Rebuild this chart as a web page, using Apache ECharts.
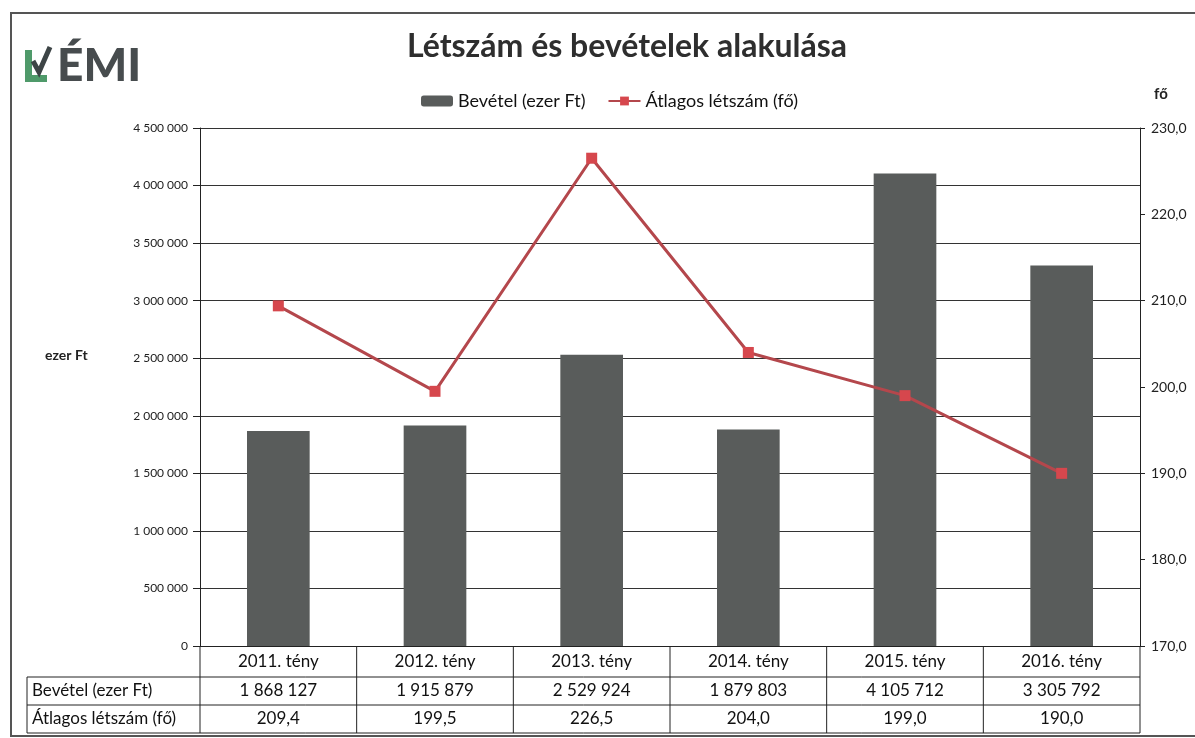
<!DOCTYPE html>
<html>
<head>
<meta charset="utf-8">
<script src="https://cdn.jsdelivr.net/npm/echarts@6/dist/echarts.min.js"></script>
<style>
html, body { margin: 0; padding: 0; background: #fff; }
#chart { width: 1195px; height: 738px; }
</style>
</head>
<body>
<div id="chart"></div>
<script>
// adatok a képről
const categories = ['2011. tény', '2012. tény', '2013. tény', '2014. tény', '2015. tény', '2016. tény'];
const bevetel = [1868127, 1915879, 2529924, 1879803, 4105712, 3305792];
const letszam = [209.4, 199.5, 226.5, 204.0, 199.0, 190.0];
const seriesNames = ['Bevétel (ezer Ft)', 'Átlagos létszám (fő)'];

const FONT = 'Lato';

function ezres(v) {
  return String(Math.round(v)).replace(/\B(?=(\d{3})+(?!\d))/g, ' ');
}
function tized(v) {
  return v.toFixed(1).replace('.', ',');
}

const chart = echarts.init(document.getElementById('chart'));

let option = {
  backgroundColor: '#fff',
  textStyle: { fontFamily: FONT },
  title: {
    text: 'Létszám és bevételek alakulása',
    left: 622,
    textAlign: 'center',
    top: 26,
    textStyle: { fontFamily: FONT, fontSize: 32, fontWeight: 'bold', color: '#2e2e2e' }
  },
  legend: {
    top: 87,
    left: 416,
    itemGap: 22,
    itemWidth: 32,
    itemHeight: 11,
    textStyle: { fontFamily: FONT, fontSize: 18, color: '#111' },
    data: seriesNames
  },
  grid: {
    left: 200,
    right: 55,
    top: 128,
    bottom: 92
  },
  xAxis: {
    type: 'category',
    data: categories,
    axisLine: { lineStyle: { color: '#222', width: 1 } },
    axisTick: { show: false },
    axisLabel: { margin: 7, fontFamily: FONT, fontSize: 17, color: '#111' },
    splitLine: { show: false }
  },
  yAxis: [
    {
      type: 'value',
      min: 0,
      max: 4500000,
      interval: 500000,
      axisLine: { show: true, lineStyle: { color: '#222' } },
      axisTick: { show: true, length: 7, lineStyle: { color: '#222' } },
      axisLabel: { margin: 12, fontFamily: FONT, fontSize: 12, color: '#222', formatter: ezres },
      splitLine: { show: true, lineStyle: { color: '#333', width: 1 } }
    },
    {
      type: 'value',
      min: 170,
      max: 230,
      interval: 10,
      name: 'fő',
      nameLocation: 'end',
      nameGap: 26,
      nameTextStyle: { fontFamily: FONT, fontSize: 15, fontWeight: 'bold', color: '#222', align: 'left', padding: [0, 0, 0, 14] },
      axisLine: { show: true, lineStyle: { color: '#222' } },
      axisTick: { show: true, length: 5, lineStyle: { color: '#222' } },
      axisLabel: { margin: 11, fontFamily: FONT, fontSize: 14, color: '#222', formatter: tized },
      splitLine: { show: false }
    }
  ],
  series: [
    {
      name: seriesNames[0],
      type: 'bar',
      barWidth: '40%',
      itemStyle: { color: '#595c5b' },
      data: bevetel
    },
    {
      name: seriesNames[1],
      type: 'line',
      yAxisIndex: 1,
      symbol: 'rect',
      symbolSize: 11,
      lineStyle: { color: '#b4474c', width: 3 },
      itemStyle: { color: '#d6474d' },
      data: letszam
    }
  ]
};

chart.setOption(option);

// adattábla + logó + keret
function buildGraphic() {
  const x0 = chart.convertToPixel({ xAxisIndex: 0 }, 0);
  const x1 = chart.convertToPixel({ xAxisIndex: 0 }, 1);
  const band = x1 - x0;
  const left = x0 - band / 2;
  const right = left + band * categories.length;
  const yAxisLine = chart.convertToPixel({ yAxisIndex: 0 }, 0);
  const rows = [yAxisLine, 677, 705, 733];
  const tableLeft = 27;
  const line = { stroke: '#222', lineWidth: 1 };
  let els = [];

  // vízszintes vonalak
  for (let r = 1; r < rows.length; r++) {
    els.push({ type: 'line', shape: { x1: tableLeft, y1: rows[r], x2: right, y2: rows[r] }, style: line });
  }
  // függőleges vonalak
  for (let i = 0; i <= categories.length; i++) {
    const x = left + band * i;
    els.push({ type: 'line', shape: { x1: x, y1: rows[0], x2: x, y2: rows[3] }, style: line });
  }
  els.push({ type: 'line', shape: { x1: tableLeft, y1: rows[1], x2: tableLeft, y2: rows[3] }, style: line });

  // sorok
  const tableRows = [bevetel.map(ezres), letszam.map(tized)];
  for (let r = 0; r < 2; r++) {
    const yc = (rows[r + 1] + rows[r + 2]) / 2;
    els.push({
      type: 'text', x: tableLeft + 5, y: yc,
      style: { text: seriesNames[r], font: '17px ' + FONT, fill: '#111', textVerticalAlign: 'middle', textAlign: 'left' }
    });
    for (let i = 0; i < categories.length; i++) {
      els.push({
        type: 'text', x: left + band * (i + 0.5), y: yc,
        style: { text: tableRows[r][i], font: '17px ' + FONT, fill: '#111', textVerticalAlign: 'middle', textAlign: 'center' }
      });
    }
  }

  // tengelynév bal oldalon
  els.push({
    type: 'text', x: 45, y: 355,
    style: { text: 'ezer Ft', font: 'bold 14px ' + FONT, fill: '#222', textVerticalAlign: 'middle' }
  });

  // logó
  els.push({ type: 'polygon', shape: { points: [[25, 50], [32, 50], [32, 75], [47, 75], [47, 82], [25, 82]] }, style: { fill: '#4f9a6a' } });
  els.push({ type: 'polyline', shape: { points: [[33, 61], [39, 72], [50, 47]] }, style: { stroke: '#3d4446', lineWidth: 5, fill: null } });
  els.push({
    type: 'text', x: 57, y: 66,
    style: { text: 'ÉMI', font: '900 46px ' + FONT, fill: '#474c4e', textVerticalAlign: 'middle' }
  });

  // keret (jobb széle kilóg a képből)
  els.push({
    type: 'polyline',
    shape: { points: [[1200, 13], [11, 13], [11, 736], [1200, 736]] },
    style: { fill: null, stroke: '#555', lineWidth: 2 }
  });

  chart.setOption({ graphic: { elements: els } });
}

buildGraphic();
</script>
</body>
</html>
